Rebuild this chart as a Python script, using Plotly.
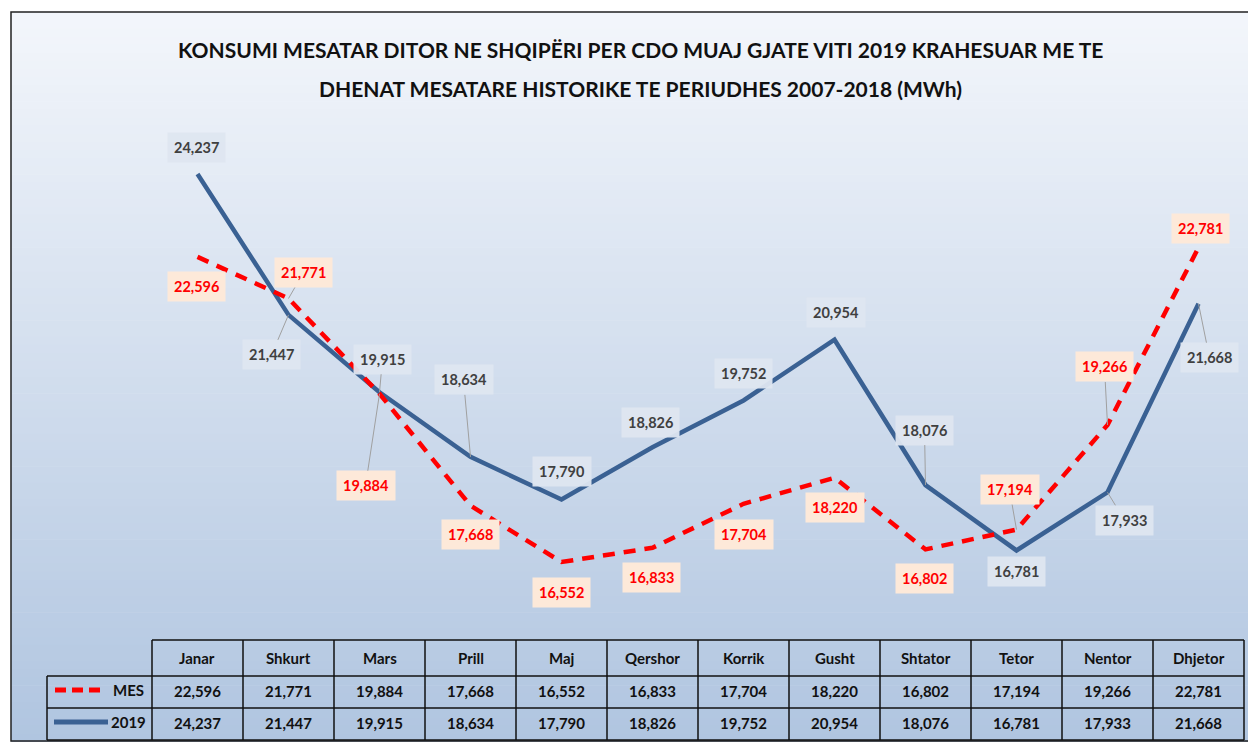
import plotly.graph_objects as go

months = ["Janar", "Shkurt", "Mars", "Prill", "Maj", "Qershor", "Korrik",
          "Gusht", "Shtator", "Tetor", "Nentor", "Dhjetor"]
mes = [22596, 21771, 19884, 17668, 16552, 16833, 17704, 18220, 16802, 17194, 19266, 22781]
y2019 = [24237, 21447, 19915, 18634, 17790, 18826, 19752, 20954, 18076, 16781, 17933, 21668]
series_names = ["MES", "2019"]
title_lines = ["KONSUMI MESATAR DITOR NE SHQIPËRI PER CDO MUAJ GJATE VITI 2019 KRAHESUAR ME TE",
               "DHENAT MESATARE HISTORIKE TE PERIUDHES 2007-2018 (MWh)"]

# page body has an 8px margin: figure is drawn from page pixel 8
OFF = 8
W, H = 1256 - OFF, 742 - OFF
FONT = "Lato"
BLUE = "#3A6193"
RED = "#FF0000"

def px(x):
    return (x - OFF) / W

def py(y):
    return 1 - (y - OFF) / H

# label offsets (pixels) and whether a leader line is shown
off_2019 = [(-1, -26, 0), (-17, 40, 1), (3, -33, 1), (-7, -77, 1), (0, -28, 0), (-2, -25, 0),
            (0, -27, 0), (1, -27, 0), (-1, -55, 1), (0, 21, 0), (17, 28, 1), (11, 54, 1)]
off_mes = [(-1, 30, 0), (15, -26, 1), (-14, 92, 1), (0, 29, 0), (0, 30, 0), (-1, 30, 0),
           (0, 31, 0), (0, 30, 0), (-1, 29, 0), (-7, -40, 1), (-3, -58, 1), (2, -19, 0)]

fig = go.Figure()
xs = list(range(len(months)))
fig.add_trace(go.Scatter(x=xs, y=y2019, mode="lines", name=series_names[1],
                         line=dict(color=BLUE, width=4.5), showlegend=False))
fig.add_trace(go.Scatter(x=xs, y=mes, mode="lines", name=series_names[0],
                         line=dict(color=RED, width=4.5, dash="12px,9px"), showlegend=False))

shapes = []
# gradient background
top = (243, 246, 251)
bot = (176, 197, 224)
N = 90
y0, y1 = 12, 742
for i in range(N):
    t = i / (N - 1)
    c = tuple(int(round(top[k] + (bot[k] - top[k]) * t)) for k in range(3))
    ya = y0 + (y1 - y0) * i / N
    yb = y0 + (y1 - y0) * (i + 1) / N + 0.6
    shapes.append(dict(type="rect", xref="paper", yref="paper", layer="below",
                       x0=px(11), x1=1.0, y0=max(0, py(yb)), y1=py(ya),
                       fillcolor="rgb(%d,%d,%d)" % c, line=dict(width=0)))
# border
shapes.append(dict(type="rect", xref="paper", yref="paper", layer="above",
                   x0=px(11), x1=px(1262), y0=py(741), y1=py(12),
                   line=dict(color="#222222", width=1.5), fillcolor="rgba(0,0,0,0)"))

# table grid
colL = 152
cw = 91
colR = colL + cw * 12
rows = [640, 676, 708, 740]
lc = dict(color="#111111", width=1.5)
shapes.append(dict(type="line", xref="paper", yref="paper", x0=px(colL), x1=px(colR),
                   y0=py(rows[0]), y1=py(rows[0]), line=lc))
for r in rows[1:]:
    shapes.append(dict(type="line", xref="paper", yref="paper", x0=px(47), x1=px(colR),
                       y0=py(r), y1=py(r), line=lc))
shapes.append(dict(type="line", xref="paper", yref="paper", x0=px(47), x1=px(47),
                   y0=py(rows[1]), y1=py(rows[3]), line=lc))
for i in range(13):
    xx = colL + cw * i
    shapes.append(dict(type="line", xref="paper", yref="paper", x0=px(xx), x1=px(xx),
                       y0=py(rows[0]), y1=py(rows[3]), line=lc))
# legend keys in table
shapes.append(dict(type="line", xref="paper", yref="paper", x0=px(55), x1=px(104),
                   y0=py(690), y1=py(690), line=dict(color=RED, width=5, dash="11px,6px")))
shapes.append(dict(type="line", xref="paper", yref="paper", x0=px(54), x1=px(108),
                   y0=py(722), y1=py(722), line=dict(color=BLUE, width=5)))

ann = []
# title
for ty, tl in zip([50, 88], title_lines):
    ann.append(dict(xref="paper", yref="paper", x=px(640), y=py(ty), showarrow=False, text=tl,
                    font=dict(family=FONT, size=21, color="#111111", weight="bold"),
                    align="center", xanchor="center", yanchor="middle"))

# table text
tf = dict(family=FONT, size=15, color="#111111", weight="bold")
for i, m in enumerate(months):
    cx = colL + cw * i + cw / 2
    ann.append(dict(xref="paper", yref="paper", x=px(cx), y=py(658), text=m, showarrow=False,
                    font=tf, xanchor="center", yanchor="middle"))
    ann.append(dict(xref="paper", yref="paper", x=px(cx), y=py(691), text=f"{mes[i]:,}",
                    showarrow=False, font=tf, xanchor="center", yanchor="middle"))
    ann.append(dict(xref="paper", yref="paper", x=px(cx), y=py(723), text=f"{y2019[i]:,}",
                    showarrow=False, font=tf, xanchor="center", yanchor="middle"))
ann.append(dict(xref="paper", yref="paper", x=px(146), y=py(690), text=series_names[0],
                showarrow=False, font=tf, xanchor="right", yanchor="middle"))
ann.append(dict(xref="paper", yref="paper", x=px(148), y=py(722), text=series_names[1],
                showarrow=False, font=tf, xanchor="right", yanchor="middle"))

# data labels
lf_blue = dict(family=FONT, size=14.5, color="#404040", weight="bold")
lf_red = dict(family=FONT, size=14.5, color=RED, weight="bold")
for i in xs:
    ax, ay, lead = off_2019[i]
    ann.append(dict(x=i, y=y2019[i], xref="x", yref="y", text=f"{y2019[i]:,}",
                    showarrow=True, arrowhead=0, ax=ax, ay=ay, arrowwidth=1,
                    arrowcolor="#A0A0A0" if lead else "rgba(0,0,0,0)",
                    bgcolor="rgba(222,230,240,0.95)", borderpad=6, font=lf_blue))
    ax, ay, lead = off_mes[i]
    ann.append(dict(x=i, y=mes[i], xref="x", yref="y", text=f"{mes[i]:,}",
                    showarrow=True, arrowhead=0, ax=ax, ay=ay, arrowwidth=1,
                    arrowcolor="#A0A0A0" if lead else "rgba(0,0,0,0)",
                    bgcolor="#FDE9D9", borderpad=6, font=lf_red))

# axis mapping
top_px, bot_px = 100, 630
k = 388 / (24237 - 16552)
ytop = 16552 + (562 - top_px) / k
ybot = 16552 - (bot_px - 562) / k

fig.update_layout(
    width=W, height=H, margin=dict(l=0, r=0, t=0, b=0),
    paper_bgcolor="white", plot_bgcolor="rgba(0,0,0,0)",
    xaxis=dict(domain=[px(colL), px(colR)], range=[-0.5, 11.5], visible=False, fixedrange=True),
    yaxis=dict(domain=[py(bot_px), py(top_px)], range=[ybot, ytop], visible=False, fixedrange=True),
    shapes=shapes, annotations=ann, showlegend=False,
)
fig.write_html("out.html")
